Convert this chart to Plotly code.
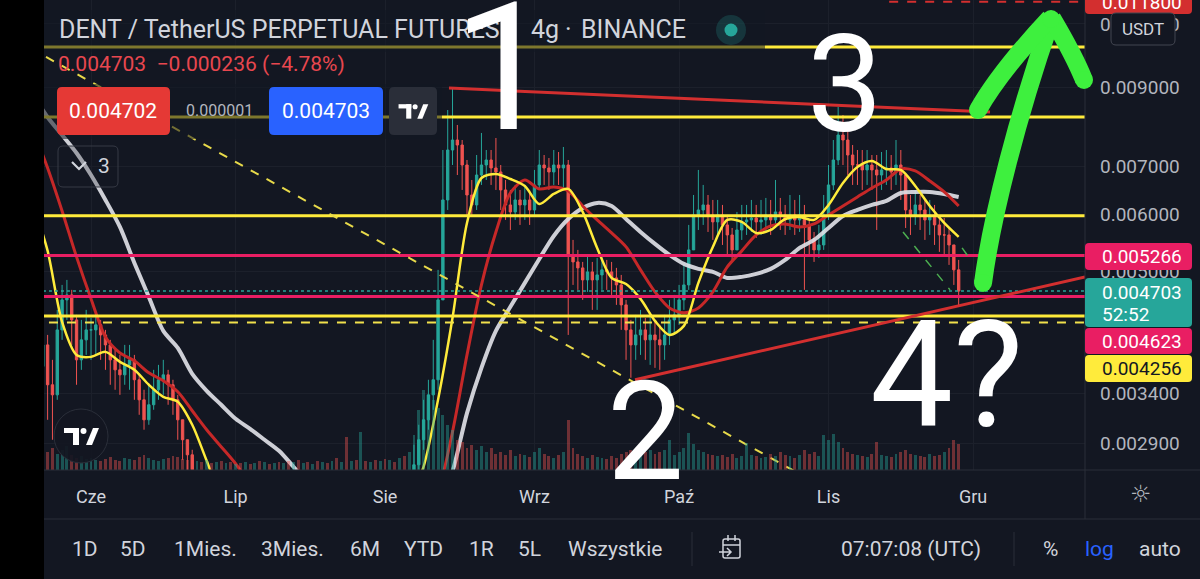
import plotly.graph_objects as go
import pandas as pd

# ---------------- DATA ----------------
SEG1_START = "2021-05-22"   # first visible daily candle block (June)
SEG2_START = "2021-08-07"   # second visible block (Aug - Nov)
MA_START = "2021-05-20"     # moving averages sampled every 3 days
VOL_START = "2021-05-22"

open1_first = 0.003700
close1 = [0.003963, 0.003491, 0.003381, 0.004157, 0.004573, 0.004646, 0.004291, 0.003779, 0.004027, 0.004157,
          0.004157, 0.004224, 0.004091, 0.003963, 0.003779, 0.003661, 0.003603, 0.003719, 0.003779, 0.003547,
          0.003328, 0.003123, 0.003276, 0.003436, 0.003547, 0.003603, 0.003491, 0.003328, 0.003123, 0.002931,
          0.002794, 0.002664]
high1 = [0.004291, 0.004091, 0.003779, 0.004430, 0.004796, 0.004873, 0.004721, 0.004360, 0.004291, 0.004430,
         0.004318, 0.004360, 0.004291, 0.004157, 0.004027, 0.003901, 0.003839, 0.003963, 0.003963, 0.003839,
         0.003603, 0.003436, 0.003491, 0.003661, 0.003719, 0.003779, 0.003661, 0.003547, 0.003381, 0.003123,
         0.002931, 0.002839]
low1 = [0.003328, 0.003123, 0.002931, 0.003328, 0.004027, 0.004291, 0.003963, 0.003491, 0.003661, 0.003839,
        0.003779, 0.003839, 0.003779, 0.003661, 0.003491, 0.003436, 0.003381, 0.003491, 0.003436, 0.003328,
        0.003173, 0.003026, 0.003074, 0.003224, 0.003328, 0.003381, 0.003276, 0.003173, 0.002931, 0.002750,
        0.002622, 0.002500]

open2_first = 0.002580
close2 = [0.002707, 0.002931, 0.003123, 0.003381, 0.003547, 0.004573, 0.006284, 0.007366, 0.007604, 0.007484,
          0.007023, 0.006384, 0.006185, 0.006803, 0.007023, 0.007136, 0.006957, 0.006869, 0.006487, 0.006185,
          0.006049, 0.006284, 0.006185, 0.006284, 0.006087, 0.006591, 0.007023, 0.006957, 0.006869, 0.007023,
          0.006957, 0.007023, 0.005276, 0.005160, 0.005063, 0.004873, 0.004999, 0.004873, 0.004951, 0.005031,
          0.004999, 0.004904, 0.004796, 0.004501, 0.004157, 0.003963, 0.004091, 0.004157, 0.004027, 0.004091,
          0.004027, 0.003963, 0.004091, 0.004291, 0.004360, 0.004573, 0.004796, 0.005361, 0.005991, 0.006087,
          0.006185, 0.005991, 0.005860, 0.005991, 0.005804, 0.005622, 0.005361, 0.005712, 0.005860, 0.005897,
          0.005934, 0.005860, 0.005897, 0.005991, 0.005897, 0.006049, 0.005991, 0.005897, 0.005991, 0.005897,
          0.005991, 0.005804, 0.005534, 0.005361, 0.005446, 0.005991, 0.006591, 0.007136, 0.007726, 0.007604,
          0.007250, 0.007023, 0.007023, 0.006913, 0.007023, 0.006913, 0.006803, 0.006913, 0.006957, 0.006869,
          0.007023, 0.006803, 0.006087, 0.005991, 0.006185, 0.006087, 0.005897, 0.005991, 0.005804, 0.005622,
          0.005622, 0.005446, 0.005031, 0.004703]
high2 = [0.002885, 0.003074, 0.003328, 0.003547, 0.004027, 0.005031, 0.007366, 0.008365, 0.008971, 0.007976,
         0.007604, 0.007136, 0.006696, 0.007250, 0.007776, 0.007366, 0.007366, 0.007653, 0.007023, 0.006696,
         0.006487, 0.006591, 0.006487, 0.006591, 0.006487, 0.006913, 0.007366, 0.007250, 0.007181, 0.007366,
         0.007319, 0.007437, 0.007136, 0.005534, 0.005361, 0.005160, 0.005276, 0.005160, 0.005226, 0.005276,
         0.005193, 0.005160, 0.005063, 0.004951, 0.004573, 0.004291, 0.004360, 0.004430, 0.004318, 0.004360,
         0.004291, 0.004224, 0.004360, 0.004573, 0.004646, 0.004796, 0.005111, 0.005804, 0.006384, 0.006913,
         0.006591, 0.006384, 0.006284, 0.006284, 0.006185, 0.005991, 0.005748, 0.006049, 0.006185, 0.006185,
         0.006284, 0.006185, 0.006284, 0.006324, 0.006284, 0.006696, 0.006324, 0.006185, 0.006384, 0.006284,
         0.006384, 0.006185, 0.005897, 0.005676, 0.005804, 0.006384, 0.007023, 0.007604, 0.008445, 0.008233,
         0.007850, 0.007484, 0.007366, 0.007366, 0.007366, 0.007250, 0.007250, 0.007319, 0.007366, 0.007250,
         0.007604, 0.007366, 0.006803, 0.006384, 0.006487, 0.006384, 0.006284, 0.006284, 0.006185, 0.005991,
         0.005934, 0.005748, 0.005446, 0.005193]
low2 = [0.002550, 0.002664, 0.002839, 0.003026, 0.003224, 0.003436, 0.004573, 0.006087, 0.007023, 0.006803,
        0.006487, 0.005991, 0.005991, 0.006087, 0.006591, 0.006696, 0.006591, 0.006487, 0.006087, 0.005897,
        0.005712, 0.005897, 0.005804, 0.005897, 0.005804, 0.005991, 0.006487, 0.006591, 0.006487, 0.006591,
        0.006591, 0.006487, 0.004091, 0.004796, 0.004721, 0.004573, 0.004691, 0.004430, 0.004430, 0.004721,
        0.004721, 0.004646, 0.004501, 0.004157, 0.003779, 0.003570, 0.003779, 0.003839, 0.003779, 0.003719,
        0.003684, 0.003661, 0.003779, 0.003963, 0.004091, 0.004224, 0.004430, 0.004721, 0.005361, 0.005712,
        0.005804, 0.005676, 0.005534, 0.005622, 0.005446, 0.005276, 0.005160, 0.005361, 0.005534, 0.005622,
        0.005676, 0.005569, 0.005622, 0.005676, 0.005622, 0.005748, 0.005712, 0.005622, 0.005712, 0.005622,
        0.005676, 0.004721, 0.005276, 0.005160, 0.005226, 0.005361, 0.005897, 0.006487, 0.007023, 0.007023,
        0.006803, 0.006591, 0.006591, 0.006487, 0.006591, 0.006487, 0.005712, 0.006487, 0.006591, 0.006487,
        0.006591, 0.006284, 0.005748, 0.005622, 0.005804, 0.005712, 0.005534, 0.005622, 0.005446, 0.005327,
        0.005276, 0.005111, 0.004796, 0.004473]

volume = [14, 18, 22, 16, 20, 24, 15, 12, 14, 11,
          12, 10, 9, 11, 13, 10, 9, 12, 11, 10,
          13, 15, 12, 10, 9, 11, 12, 14, 13, 11,
          10, 12, 9, 8, 10, 7, 8, 9, 7, 8,
          6, 7, 8, 6, 7, 9, 8, 6, 7, 8,
          7, 9, 8, 10, 7, 8, 6, 9, 8, 7,
          9, 12, 8, 33, 9, 10, 38, 9, 8, 10,
          9, 11, 10, 8, 12, 14, 18, 35, 60, 80,
          75, 70, 62, 55, 45, 40, 30, 28, 22, 25,
          20, 24, 18, 22, 16, 18, 15, 20, 14, 16,
          15, 13, 18, 22, 16, 14, 12, 15, 18, 50,
          22, 16, 14, 12, 15, 13, 12, 11, 14, 12,
          16, 18, 20, 16, 22, 18, 20, 16, 18, 20,
          30, 15, 18, 22, 37, 26, 20, 18, 16, 15,
          14, 15, 13, 16, 12, 14, 27, 15, 14, 12,
          13, 16, 14, 18, 15, 14, 12, 15, 20, 16,
          18, 14, 35, 30, 36, 28, 22, 18, 16, 15,
          14, 13, 16, 28, 15, 14, 13, 16, 18, 20,
          16, 15, 14, 13, 16, 14, 15, 18, 22, 30,
          26]

ma_fast = [0.006200, 0.005344, 0.004264, 0.003839, 0.003815, 0.003876, 0.003755, 0.003661, 0.003491, 0.003360,
           0.003307, 0.003074, 0.002741, 0.002450, 0.002350, 0.002280, 0.002200, 0.002120, 0.002050, 0.002000,
           0.001980, 0.002000, 0.002050, 0.002100, 0.002150, 0.002200, 0.002400, 0.002690, 0.003330, 0.004320,
           0.005841, 0.006738, 0.006825, 0.006717, 0.006570, 0.006204, 0.006405, 0.006508, 0.006049, 0.005395,
           0.004904, 0.004811, 0.004588, 0.004278, 0.004091, 0.004210, 0.004827, 0.005412, 0.005897, 0.005860,
           0.005658, 0.005712, 0.005915, 0.005953, 0.005897, 0.006185, 0.006633, 0.006979, 0.007113, 0.006935,
           0.006913, 0.006570, 0.006165, 0.005841, 0.005587]
ma_mid = [0.007850, 0.006957, 0.006068, 0.005243, 0.004588, 0.004065, 0.003864, 0.003767, 0.003626, 0.003536,
          0.003414, 0.003214, 0.003026, 0.002867, 0.002716, 0.002550, 0.002450, 0.002380, 0.002300, 0.002220,
          0.002160, 0.002120, 0.002100, 0.002100, 0.002120, 0.002150, 0.002200, 0.002350, 0.002500, 0.003007,
          0.003839, 0.004796, 0.005676, 0.006426, 0.006696, 0.006508, 0.006549, 0.006466, 0.006165, 0.005897,
          0.005658, 0.005412, 0.005031, 0.004691, 0.004458, 0.004388, 0.004458, 0.004691, 0.005079, 0.005344,
          0.005622, 0.005785, 0.005822, 0.005767, 0.005822, 0.005991, 0.006165, 0.006344, 0.006528, 0.006696,
          0.006935, 0.006891, 0.006675, 0.006446, 0.006165]
ma_slow = [0.008774, 0.008174, 0.007726, 0.007296, 0.006803, 0.006284, 0.005767, 0.005144, 0.004616, 0.004144,
           0.003926, 0.003615, 0.003425, 0.003276, 0.003133, 0.003035, 0.002931, 0.002830, 0.002690, 0.002550,
           0.002450, 0.002380, 0.002320, 0.002260, 0.002220, 0.002200, 0.002220, 0.002260, 0.002350, 0.002650,
           0.003190, 0.003684, 0.004144, 0.004473, 0.004827, 0.005209, 0.005604, 0.005915, 0.006126, 0.006225,
           0.006165, 0.005915, 0.005676, 0.005464, 0.005276, 0.005127, 0.005047, 0.004999, 0.004904, 0.004920,
           0.004967, 0.005047, 0.005193, 0.005395, 0.005534, 0.005748, 0.005972, 0.006087, 0.006185, 0.006264,
           0.006425, 0.006446, 0.006446, 0.006405, 0.006344]

month_ticks = ["2021-06-01", "2021-07-01", "2021-08-01", "2021-09-01", "2021-10-01", "2021-11-01", "2021-12-01"]
month_labels = ["Cze", "Lip", "Sie", "Wrz", "Paź", "Lis", "Gru"]
price_ticks = [0.0029, 0.0034, 0.005, 0.006, 0.007, 0.009, 0.011]

levels_yellow = [0.01022, 0.008182, 0.005975, 0.004346]
levels_pink = [0.005266, 0.004623]
level_dashed = 0.004256
last_price = 0.004703
bid_price = 0.004702
spread = 0.000001
change_abs = -0.000236
change_pct = -4.78
target_price = 0.0118
target_from = "2021-11-13 14:00"
countdown = "52:52"

trend_top_x = ["2021-08-14 06:30", "2021-12-04 12:00"]
trend_top_y = [0.008971, 0.008312]
trend_low_x = ["2021-09-21 20:40", "2021-12-24 05:00"]
trend_low_y = [0.003547, 0.004920]
diag_x = ["2021-05-22 16:00", "2021-10-24 19:00"]
diag_y = [0.009902, 0.002656]
chan1_x = ["2021-11-16 11:00", "2021-11-26 05:00"]
chan1_y = [0.005676, 0.004721]
chan2_x = ["2021-11-28 17:00", "2021-11-30 19:00"]
chan2_y = [0.005395, 0.005160]

X_RANGE = ["2021-05-22 06:00", "2021-12-24 05:00"]
Y_RANGE = [-2.574763, -1.925591]
FAR = ["2021-04-01", "2022-02-28"]

# ---------------- STYLE ----------------
FONT = "Roboto, 'Noto Sans', 'DejaVu Sans', sans-serif"
BG = "#131722"
GRID = "#1c202b"
SEP = "#2a2e39"
TXT = "#d1d4dc"
TXT2 = "#b2b5be"
TEAL = "#26a69a"
RED = "#ef5350"
YEL = "#ffeb3b"
PINK = "#e91e63"
TRED = "#d32f2f"

L, R, T, B = 44, 1085, 0, 470
PW, PH = R - L, B - T


def fx(x):
    return (x - L) / PW


def fy(y):
    return (B - y) / PH


shapes = []
annotations = []


def rect(x0, y0, x1, y1, fill, line=None, lw=0, r=0):
    if r == 0:
        shapes.append(dict(type="rect", xref="paper", yref="paper", x0=fx(x0), x1=fx(x1),
                           y0=fy(y1), y1=fy(y0), fillcolor=fill,
                           line=dict(color=line or "rgba(0,0,0,0)", width=lw), layer="above"))
    else:
        p = (f"M {fx(x0+r)},{fy(y0)} L {fx(x1-r)},{fy(y0)} Q {fx(x1)},{fy(y0)} {fx(x1)},{fy(y0+r)} "
             f"L {fx(x1)},{fy(y1-r)} Q {fx(x1)},{fy(y1)} {fx(x1-r)},{fy(y1)} "
             f"L {fx(x0+r)},{fy(y1)} Q {fx(x0)},{fy(y1)} {fx(x0)},{fy(y1-r)} "
             f"L {fx(x0)},{fy(y0+r)} Q {fx(x0)},{fy(y0)} {fx(x0+r)},{fy(y0)} Z")
        shapes.append(dict(type="path", xref="paper", yref="paper", path=p, fillcolor=fill,
                           line=dict(color=line or "rgba(0,0,0,0)", width=lw), layer="above"))


def circle(cx, cy, r, fill, line=None, lw=0):
    shapes.append(dict(type="circle", xref="paper", yref="paper", x0=fx(cx - r), x1=fx(cx + r),
                       y0=fy(cy + r), y1=fy(cy - r), fillcolor=fill,
                       line=dict(color=line or "rgba(0,0,0,0)", width=lw), layer="above"))


def poly(pts, fill):
    p = "M " + " L ".join(f"{fx(x)},{fy(y)}" for x, y in pts) + " Z"
    shapes.append(dict(type="path", xref="paper", yref="paper", path=p, fillcolor=fill,
                       line=dict(color="rgba(0,0,0,0)", width=0), layer="above"))


def seg(x0, y0, x1, y1, color, w=1):
    shapes.append(dict(type="line", xref="paper", yref="paper", x0=fx(x0), x1=fx(x1),
                       y0=fy(y0), y1=fy(y1), line=dict(color=color, width=w), layer="above"))


def curve(path_px, color, w):
    out = []
    for tok in path_px:
        if isinstance(tok, str):
            out.append(tok)
        else:
            out.append(f"{fx(tok[0])},{fy(tok[1])}")
    shapes.append(dict(type="path", xref="paper", yref="paper", path=" ".join(out),
                       line=dict(color=color, width=w), layer="above"))


def text(x, y, s, size, color=TXT, anchor="center", family=FONT):
    annotations.append(dict(xref="paper", yref="paper", x=fx(x), y=fy(y), text=s, showarrow=False,
                            xanchor=anchor, yanchor="middle", borderpad=0,
                            font=dict(size=size, color=color, family=family)))


def tv_logo(cx, cy, s, color="#ffffff"):
    poly([(cx - 17 * s, cy - 8 * s), (cx - 2 * s, cy - 8 * s), (cx - 2 * s, cy - 3 * s), (cx - 17 * s, cy - 3 * s)], color)
    poly([(cx - 8 * s, cy - 8 * s), (cx - 2 * s, cy - 8 * s), (cx - 2 * s, cy + 9 * s), (cx - 8 * s, cy + 9 * s)], color)
    circle(cx + 2.5 * s, cy - 5 * s, 3 * s, color)
    poly([(cx + 5 * s, cy + 9 * s), (cx + 12 * s, cy - 8 * s), (cx + 18 * s, cy - 8 * s), (cx + 11 * s, cy + 9 * s)], color)


# ---------------- FIGURE ----------------
fig = go.Figure()

open1 = [open1_first] + close1[:-1]
open2 = [open2_first] + close2[:-1]
d1 = pd.date_range(SEG1_START, periods=len(close1), freq="D")
d2 = pd.date_range(SEG2_START, periods=len(close2), freq="D")
dv = pd.date_range(VOL_START, periods=len(volume), freq="D")
dm = pd.date_range(MA_START, periods=len(ma_fast), freq="3D")

direction = {}
for dates, oo, cc in ((d1, open1, close1), (d2, open2, close2)):
    for t, o_, c_ in zip(dates, oo, cc):
        direction[t] = c_ >= o_
vol_colors = []
for i, t in enumerate(dv):
    up = direction.get(t, i % 2 == 0)
    vol_colors.append("rgba(38,166,154,0.42)" if up else "rgba(239,83,80,0.42)")

fig.add_trace(go.Bar(x=dv, y=volume, yaxis="y2", marker=dict(color=vol_colors, line=dict(width=0)),
                     width=0.6 * 86400000, hoverinfo="skip"))

for dates, oo, hh, ll, cc in ((d1, open1, high1, low1, close1), (d2, open2, high2, low2, close2)):
    fig.add_trace(go.Candlestick(x=dates, open=oo, high=hh, low=ll, close=cc, whiskerwidth=0,
                                 increasing=dict(line=dict(color=TEAL, width=1), fillcolor=TEAL),
                                 decreasing=dict(line=dict(color=RED, width=1), fillcolor=RED),
                                 hoverinfo="skip"))

fig.add_trace(go.Scatter(x=dm, y=ma_slow, mode="lines",
                         line=dict(color="rgba(222,224,230,0.92)", width=4, shape="spline", smoothing=0.8)))
fig.add_trace(go.Scatter(x=dm, y=ma_mid, mode="lines",
                         line=dict(color="#c62828", width=3, shape="spline", smoothing=0.8)))
fig.add_trace(go.Scatter(x=dm, y=ma_fast, mode="lines",
                         line=dict(color=YEL, width=2.5, shape="spline", smoothing=0.8)))

for v in levels_yellow:
    fig.add_trace(go.Scatter(x=FAR, y=[v, v], mode="lines", line=dict(color=YEL, width=3)))
for v in levels_pink:
    fig.add_trace(go.Scatter(x=FAR, y=[v, v], mode="lines", line=dict(color=PINK, width=3)))
fig.add_trace(go.Scatter(x=FAR, y=[level_dashed] * 2, mode="lines", line=dict(color="#f2e14c", width=2, dash="dash")))
fig.add_trace(go.Scatter(x=FAR, y=[last_price] * 2, mode="lines", line=dict(color=TEAL, width=1.5, dash="dot")))
fig.add_trace(go.Scatter(x=[target_from, FAR[1]], y=[target_price] * 2, mode="lines",
                         line=dict(color=TRED, width=2, dash="dash")))
fig.add_trace(go.Scatter(x=diag_x, y=diag_y, mode="lines", line=dict(color="#e8da4a", width=2, dash="dash")))
fig.add_trace(go.Scatter(x=trend_top_x, y=trend_top_y, mode="lines", line=dict(color=TRED, width=3)))
fig.add_trace(go.Scatter(x=trend_low_x, y=trend_low_y, mode="lines", line=dict(color=TRED, width=3)))
fig.add_trace(go.Scatter(x=chan1_x, y=chan1_y, mode="lines", line=dict(color="#4caf50", width=1.5, dash="dash")))
fig.add_trace(go.Scatter(x=chan2_x, y=chan2_y, mode="lines", line=dict(color="#4caf50", width=1.5, dash="dash")))

# ---------- overlay decorations ----------
rect(0, -10, L, 590, "#000000")
# legend backgrounds (dim the lines beneath)
rect(L, 10, 765, 52, "rgba(19,23,34,0.55)")
rect(L, 84, 442, 139, "rgba(19,23,34,0.55)")

# separators
seg(R, 0, R, 519, SEP, 1)
seg(L, 470, 1200, 470, SEP, 1)
seg(L, 519, 1200, 519, SEP, 1)
seg(692, 532, 692, 566, SEP, 1)
seg(1014, 532, 1014, 566, SEP, 1)

# title row
text(58, 30, "DENT / TetherUS PERPETUAL FUTURES", 25, TXT, "left")
text(530, 30, "4g", 25, TXT, "left")
text(568, 30, "·", 25, TXT, "center")
text(580, 30, "BINANCE", 25, TXT, "left")
circle(731, 30, 15, "rgba(38,166,154,0.22)")
circle(731, 30, 6.5, TEAL)
text(57, 64, f"{last_price:.6f}  \u2212{abs(change_abs):.6f} (\u2212{abs(change_pct):.2f}%)", 21, "#e8474f", "left")

# bid / ask boxes
rect(57, 87, 170, 135, "#e53935", r=5)
text(113, 111, f"{bid_price:.6f}", 21, "#ffffff")
text(219, 111, f"{spread:.6f}", 16, TXT2)
rect(269, 87, 383, 135, "#2962ff", r=5)
text(326, 111, f"{last_price:.6f}", 21, "#ffffff")
rect(389, 87, 437, 135, "#2a2e39", r=5)
tv_logo(413, 111, 0.85)

# collapse box
rect(58, 146, 118, 187, "rgba(19,23,34,0.25)", line="#363a45", lw=1, r=5)
curve(["M", (72, 162), "L", (79, 169), "L", (86, 162)], TXT, 2.2)
text(104, 166, "3", 21, TXT)

# bottom-left logo
circle(81, 436, 27, "rgba(19,23,34,0.92)", line="#2a2e39", lw=1)
tv_logo(81, 436, 1.0)

# big hand-drawn numbers
text(503, 68, "1", 179, "#ffffff")
text(645, 432, "2", 137, "#ffffff")
text(845, 85, "3", 135, "#ffffff")
text(946, 375, "4?", 148, "#ffffff")

# green arrow
GREEN = "#3ef03e"
curve(["M", (983, 283), "C", (992, 215), (1018, 115), (1051, 20)], GREEN, 18)
curve(["M", (978, 110), "C", (995, 80), (1020, 50), (1050, 18)], GREEN, 18)
curve(["M", (1052, 18), "C", (1062, 35), (1074, 55), (1084, 80)], GREEN, 18)
for cx, cy in ((983, 283), (978, 110), (1084, 80), (1051, 19)):
    circle(cx, cy, 9, GREEN)

# price-scale labels
rect(1085, -12, 1192, 14, "#d32f2f", r=4)
text(1101, 3, f"{target_price:.6f}", 19, "#ffffff", "left")
rect(1111, 13, 1175, 45, BG, line="#434651", lw=1, r=5)
text(1143, 29, "USDT", 17, TXT)
rect(1085, 243, 1192, 270, PINK, r=4)
text(1101, 256, f"{levels_pink[0]:.6f}", 19, "#ffffff", "left")
rect(1085, 278, 1192, 327, TEAL, r=4)
text(1101, 292, f"{last_price:.6f}", 19, "#ffffff", "left")
text(1101, 314, countdown, 19, "#ffffff", "left")
rect(1085, 328, 1192, 354, PINK, r=4)
text(1101, 341, f"{levels_pink[1]:.6f}", 19, "#ffffff", "left")
rect(1085, 355, 1192, 382, YEL, r=4)
text(1101, 368, f"{level_dashed:.6f}", 19, "#131722", "left")

# settings icon on time scale
text(1141, 494, "\u263c", 24, TXT2, family="DejaVu Sans")

# bottom toolbar
for s, x in (("1D", 85), ("5D", 133), ("1Mies.", 205), ("3Mies.", 292), ("6M", 365), ("YTD", 423),
             ("1R", 481), ("5L", 529), ("Wszystkie", 615)):
    text(x, 549, s, 21, TXT)
text(911, 549, "07:07:08 (UTC)", 21, TXT)
text(1050, 549, "%", 21, TXT)
text(1099, 549, "log", 21, "#2962ff")
text(1160, 549, "auto", 21, TXT)
# calendar icon
rect(723, 539, 740, 558, "rgba(0,0,0,0)", line=TXT, lw=1.5, r=2)
seg(723, 545, 740, 545, TXT, 1.5)
seg(728, 535, 728, 541, TXT, 1.5)
seg(735, 535, 735, 541, TXT, 1.5)
curve(["M", (719, 552), "L", (731, 552), "M", (727, 548), "L", (731, 552), "L", (727, 556)], TXT, 1.5)

fig.update_layout(
    width=1200, height=579,
    margin=dict(l=L, r=1200 - R, t=T, b=579 - B),
    paper_bgcolor=BG, plot_bgcolor=BG,
    showlegend=False,
    font=dict(family=FONT, color=TXT),
    shapes=shapes, annotations=annotations,
    bargap=0,
    xaxis=dict(type="date", range=X_RANGE, tickvals=month_ticks, ticktext=month_labels,
               showgrid=True, gridcolor=GRID, gridwidth=1, zeroline=False, showline=False,
               ticks="", tickfont=dict(size=18, color=TXT, family=FONT), ticklabelstandoff=14,
               rangeslider=dict(visible=False), fixedrange=True),
    yaxis=dict(type="log", range=Y_RANGE, side="right", tickvals=price_ticks,
               ticktext=[f"{v:.6f}" for v in price_ticks],
               showgrid=True, gridcolor=GRID, gridwidth=1, zeroline=False, showline=False,
               ticks="", tickfont=dict(size=19, color=TXT2, family=FONT), ticklabelstandoff=14,
               fixedrange=True),
    yaxis2=dict(overlaying="y", range=[0, 470], visible=False, fixedrange=True),
)

fig.write_html("out.html", config={"displayModeBar": False},
               post_script="document.body.style.margin='0';document.body.style.background='#000';")
